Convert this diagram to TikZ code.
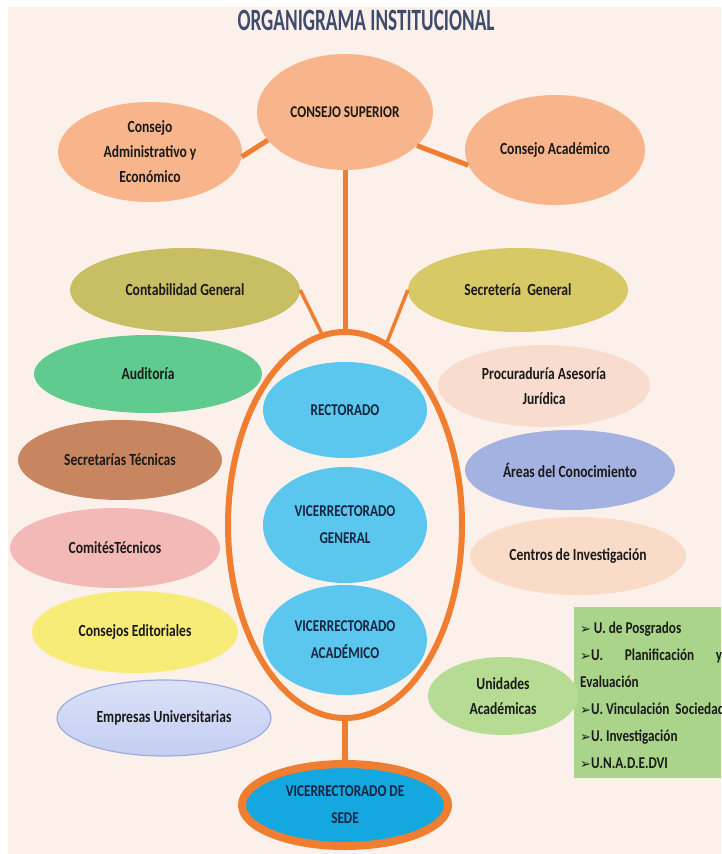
\documentclass[tikz,border=0pt]{standalone}
\usepackage{fontspec}
\setmainfont{Carlito}[FakeStretch=0.8]
\newfontfamily\titlefont{Carlito}[FakeStretch=0.62]
\newfontfamily\dingfont{DejaVu Sans}
\usetikzlibrary{shapes.geometric}

\definecolor{fondo}{HTML}{FCF1EA}
\definecolor{titulo}{HTML}{3D4B6E}
\definecolor{naranja}{HTML}{F07E30}
\definecolor{melocoton}{HTML}{F8B58B}
\definecolor{celeste}{HTML}{5CC7EE}
\definecolor{azulsede}{HTML}{14A7E0}
\definecolor{oliva}{HTML}{C8BE64}
\definecolor{mostaza}{HTML}{D6C966}
\definecolor{verdeaudit}{HTML}{5FCB8E}
\definecolor{rosado}{HTML}{F8DDCF}
\definecolor{canela}{HTML}{C88660}
\definecolor{lavanda}{HTML}{A3B2E0}
\definecolor{rosa}{HTML}{F2B9B6}
\definecolor{durazno}{HTML}{FADBC8}
\definecolor{amarillo}{HTML}{F7EC78}
\definecolor{lilaclaro}{HTML}{CAD4F4}
\definecolor{lilaborde}{HTML}{9DACDF}
\definecolor{verdeclaro}{HTML}{B6DB93}
\definecolor{verdecaja}{HTML}{A9D48A}
\definecolor{tinta}{HTML}{1A1A1A}
\definecolor{marino}{HTML}{15253F}

\newcommand\flecha{{\dingfont\fontsize{13}{13}\selectfont ➢}}

\begin{document}
\begin{tikzpicture}[x=1pt,y=-1pt,
  unit/.style={ellipse, inner sep=0pt, align=center, text=tinta,
    font=\fontsize{17}{25}\selectfont\bfseries},
  rector/.style={unit, fill=celeste, text=marino,
    minimum width=164pt, font=\fontsize{16.5}{27}\selectfont\bfseries},
  heavy/.style={draw=naranja, line width=5pt},
  light/.style={draw=naranja, line width=3.5pt},
]
\useasboundingbox (0,0) rectangle (721,854);
\clip (0,0) rectangle (721,854);
\fill[fondo] (8,7) rectangle (721,854);

% title
\node[font=\titlefont\fontsize{31}{31}\selectfont\bfseries, text=titulo] (titulo) at (366,20) {ORGANIGRAMA INSTITUCIONAL};

% governing councils
\node[unit, fill=melocoton, minimum width=176pt, minimum height=116pt, font=\fontsize{16.5}{25}\selectfont\bfseries] (superior) at (345,112) {CONSEJO SUPERIOR};
\node[unit, fill=melocoton, minimum width=184pt, minimum height=100pt] (admin) at (150,152) {Consejo\\Administrativo y\\Económico};
\node[unit, fill=melocoton, minimum width=180pt, minimum height=110pt] (academico) at (555,150) {Consejo Académico};

% frame around the rectorate
\node[ellipse, draw=naranja, line width=6pt, minimum width=234pt, minimum height=386pt, inner sep=0pt] (marco) at (345,525) {};

\node[rector, minimum height=96pt] (rectorado) at (345,410) {RECTORADO};
\node[rector, minimum height=116pt] (vgeneral) at (345,525) {VICERRECTORADO\\GENERAL};
\node[rector, minimum height=110pt] (vacademico) at (345,640) {VICERRECTORADO\\ACADÉMICO};

\node[unit, fill=azulsede, draw=naranja, line width=8pt, text=marino, minimum width=206pt, minimum height=82pt,
  font=\fontsize{16.5}{27}\selectfont\bfseries] (sede) at (345,805) {VICERRECTORADO DE\\SEDE};

% left column
\node[unit, fill=oliva, minimum width=230pt, minimum height=84pt] (contabilidad) at (185,290) {Contabilidad General};
\node[unit, fill=verdeaudit, minimum width=228pt, minimum height=78pt] (auditoria) at (148,374) {Auditoría};
\node[unit, fill=canela, minimum width=204pt, minimum height=80pt] (tecnicas) at (120,460) {Secretarías Técnicas};
\node[unit, fill=rosa, minimum width=210pt, minimum height=80pt] (comites) at (115,548) {ComitésTécnicos};
\node[unit, fill=amarillo, minimum width=206pt, minimum height=82pt] (editoriales) at (135,632) {Consejos Editoriales};
\node[unit, draw=lilaborde, line width=1.2pt, top color=lilaclaro!70!white, bottom color=lilaclaro!85!lilaborde,
  minimum width=214pt, minimum height=76pt] (empresas) at (164,718) {Empresas Universitarias};

% right column
\node[unit, fill=mostaza, minimum width=220pt, minimum height=84pt] (secretaria) at (518,290) {Secretería\ \ General};
\node[unit, fill=rosado, minimum width=212pt, minimum height=82pt] (procuraduria) at (544,386) {Procuraduría Asesoría\\Jurídica};
\node[unit, fill=lavanda, minimum width=210pt, minimum height=80pt] (areas) at (570,470) {Áreas del Conocimiento};
\node[unit, fill=durazno, minimum width=216pt, minimum height=78pt] (centros) at (578,556) {Centros de Investigación};

% academic units and their list (the list runs past the right edge)
\node[fill=verdecaja, anchor=north west, inner sep=0pt, minimum width=160pt, minimum height=171pt] (lista) at (574,607) {};
\node[anchor=north west, align=left, inner sep=0pt, text=tinta,
  font=\fontsize{16.5}{27}\selectfont\bfseries] (listatexto) at (580,622) {%
\flecha\,U. de Posgrados\\
\hbox to 142pt{\flecha U.\hfill Planificación\hfill y}\\
Evaluación\\
\flecha U. Vinculación\ \ Sociedad\\
\flecha U. Investigación\\
\flecha U.N.A.D.E.DVI};
\node[unit, fill=verdeclaro, minimum width=150pt, minimum height=78pt] (unidades) at (503,696) {Unidades\\Académicas};

% connectors
\draw[heavy] (superior.200) -- (admin.-3);
\draw[heavy] (superior.-25) -- (academico.190);
\draw[heavy] (superior.south) -- (marco.north);
\draw[light] (contabilidad.east) -- (marco.97);
\draw[light] (secretaria.west) -- (marco.77);
\draw[draw=naranja, line width=6pt] (marco.south) -- (sede.north);
\end{tikzpicture}
\end{document}
